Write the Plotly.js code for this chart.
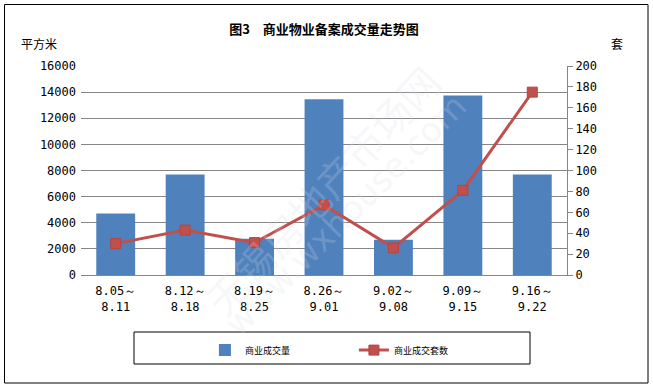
<!DOCTYPE html>
<html>
<head>
<meta charset="utf-8">
<script src="https://cdn.plot.ly/plotly-3.0.1.min.js"></script>
<style>
html,body{margin:0;padding:0;background:#fff;}
#chart{width:653px;height:387px;}
</style>
</head>
<body>
<div id="chart"></div>
<script>
// ---- data ----
const weekStart = ["8.05～","8.12～","8.19～","8.26～","9.02～","9.09～","9.16～"];
const weekEnd   = ["8.11","8.18","8.25","9.01","9.08","9.15","9.22"];
const areaSold  = [4700, 7690, 2780, 13450, 2700, 13750, 7690];   // 平方米
const unitsSold = [30, 43, 31, 67, 26, 81, 175];                   // 套
const seriesNames = ["商业成交量", "商业成交套数"];
const titleText = "图3　商业物业备案成交量走势图";
const leftUnit = "平方米";
const rightUnit = "套";

const categories = weekStart.map((s, i) => s + "<br>" + weekEnd[i]);

const numFont = {family: "DejaVu Sans Mono, monospace", size: 12, color: "#000"};
const cjk = "Noto Sans CJK SC, sans-serif";

const traces = [
  {
    type: "bar",
    name: seriesNames[0],
    x: categories,
    y: areaSold,
    marker: {color: "#4F81BD"},
    yaxis: "y"
  },
  {
    type: "scatter",
    mode: "lines+markers",
    name: seriesNames[1],
    x: categories,
    y: unitsSold,
    yaxis: "y2",
    line: {color: "#C0504D", width: 3},
    marker: {symbol: "square", size: 10, color: "#C0504D", line: {color: "#B9433F", width: 1}}
  }
];

const layout = {
  width: 653,
  height: 387,
  margin: {l: 81, r: 86, t: 66, b: 112},
  paper_bgcolor: "#fff",
  plot_bgcolor: "#fff",
  bargap: 0.44,
  showlegend: true,
  title: {
    text: "<b>" + titleText + "</b>",
    font: {family: cjk, size: 13, color: "#000"},
    x: 0.5, xanchor: "center", xref: "paper",
    y: 0.925, yanchor: "middle", yref: "container"
  },
  xaxis: {
    type: "category",
    showgrid: false,
    showline: true,
    linecolor: "#868686",
    linewidth: 1,
    ticks: "",
    tickfont: numFont,
    ticklabelstandoff: 5,
    fixedrange: true
  },
  yaxis: {
    range: [0, 16000],
    dtick: 2000,
    tickformat: "d",
    showgrid: true,
    gridcolor: "#868686",
    gridwidth: 1,
    zeroline: false,
    showline: false,
    ticks: "",
    tickfont: numFont,
    ticklabelstandoff: 4
  },
  yaxis2: {
    range: [0, 200],
    dtick: 20,
    tickformat: "d",
    overlaying: "y",
    side: "right",
    showgrid: false,
    zeroline: false,
    showline: true,
    linecolor: "#868686",
    ticks: "outside",
    ticklen: 5,
    tickcolor: "#868686",
    tickfont: numFont
  },
  legend: {
    orientation: "h",
    x: 0.255, xanchor: "left",
    y: -0.29, yanchor: "top",
    bgcolor: "rgba(0,0,0,0)",
    borderwidth: 0,
    font: {family: cjk, size: 9, color: "#000"},
    entrywidth: 104,
    itemwidth: 30
  },
  shapes: [
    {type: "rect", xref: "paper", yref: "paper",
     x0: (134 - 81) / 486, x1: (530 - 81) / 486,
     y0: (275 - 364) / 209, y1: (275 - 332) / 209,
     line: {color: "#000", width: 1}, fillcolor: "rgba(0,0,0,0)"},
    {type: "rect", xref: "paper", yref: "paper",
     x0: (4.5 - 81) / 486, x1: (648 - 81) / 486,
     y0: (275 - 383) / 209, y1: (275 - 4.5) / 209,
     line: {color: "#000", width: 1}, fillcolor: "rgba(0,0,0,0)"}
  ],
  annotations: [
    {text: leftUnit, xref: "paper", yref: "paper",
     x: (39 - 81) / 486, y: (275 - 44) / 209, xanchor: "center", yanchor: "middle",
     showarrow: false, font: {family: cjk, size: 12, color: "#000"}},
    {text: rightUnit, xref: "paper", yref: "paper",
     x: (617 - 81) / 486, y: (275 - 44) / 209, xanchor: "center", yanchor: "middle",
     showarrow: false, font: {family: cjk, size: 12, color: "#000"}},
    {text: "无锡房地产市场网", xref: "paper", yref: "paper",
     x: (322 - 81) / 486, y: (275 - 190) / 209, xanchor: "center", yanchor: "middle",
     textangle: -47, showarrow: false,
     font: {family: cjk, size: 40, color: "rgba(215,222,232,0.22)"}},
    {text: "www.wxhouse.com", xref: "paper", yref: "paper",
     x: (345 - 81) / 486, y: (275 - 215) / 209, xanchor: "center", yanchor: "middle",
     textangle: -45, showarrow: false,
     font: {family: "DejaVu Sans, sans-serif", size: 34, color: "rgba(215,222,232,0.22)"}}
  ]
};

Plotly.newPlot("chart", traces, layout, {displayModeBar: false, staticPlot: true});
</script>
</body>
</html>
